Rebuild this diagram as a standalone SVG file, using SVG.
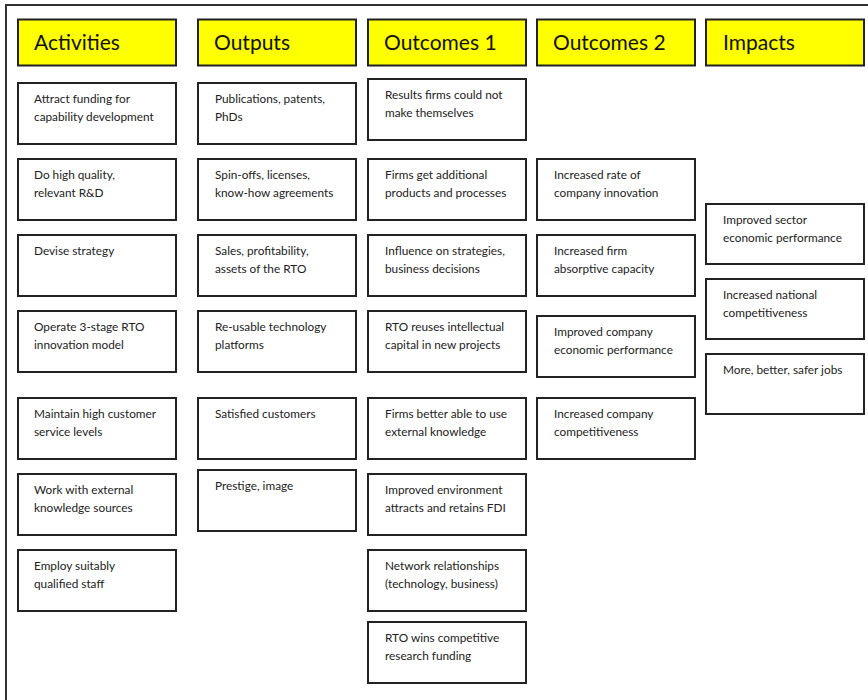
<svg xmlns="http://www.w3.org/2000/svg" width="868" height="700" viewBox="0 0 868 700">
<style>
.frame{fill:none;stroke:#333;stroke-width:2}
.hd{fill:#ffff00;stroke:#222;stroke-width:2}
.bx{fill:#fff;stroke:#222;stroke-width:2}
.ht{font-family:Lato,"Liberation Sans",sans-serif;font-size:21px;fill:#111}
.t{font-family:Lato,"Liberation Sans",sans-serif;font-size:11.8px;fill:#222}
</style>
<rect width="868" height="700" fill="#fff"/>
<path class="frame" d="M6 702 V5 H870"/>
<g id="connectors"></g>
<g id="h-activities"><rect class="hd" x="18" y="19.5" width="158" height="46"/><text class="ht" x="34" y="50">Activities</text></g>
<g id="h-outputs"><rect class="hd" x="198" y="19.5" width="158" height="46"/><text class="ht" x="214" y="50">Outputs</text></g>
<g id="h-outcomes1"><rect class="hd" x="368" y="19.5" width="158" height="46"/><text class="ht" x="384" y="50">Outcomes 1</text></g>
<g id="h-outcomes2"><rect class="hd" x="537" y="19.5" width="158" height="46"/><text class="ht" x="553" y="50">Outcomes 2</text></g>
<g id="h-impacts"><rect class="hd" x="706" y="19.5" width="158" height="46"/><text class="ht" x="723" y="50">Impacts</text></g>

<g id="a1"><rect class="bx" x="18" y="83" width="158" height="61"/><text class="t" x="34" y="103">Attract funding for<tspan x="34" dy="17.5">capability development</tspan></text></g>
<g id="a2"><rect class="bx" x="18" y="159" width="158" height="61"/><text class="t" x="34" y="179">Do high quality,<tspan x="34" dy="17.5">relevant R&amp;D</tspan></text></g>
<g id="a3"><rect class="bx" x="18" y="235" width="158" height="61"/><text class="t" x="34" y="255">Devise strategy</text></g>
<g id="a4"><rect class="bx" x="18" y="311" width="158" height="61"/><text class="t" x="34" y="331">Operate 3-stage RTO<tspan x="34" dy="17.5">innovation model</tspan></text></g>
<g id="a5"><rect class="bx" x="18" y="398" width="158" height="61"/><text class="t" x="34" y="418">Maintain high customer<tspan x="34" dy="17.5">service levels</tspan></text></g>
<g id="a6"><rect class="bx" x="18" y="474" width="158" height="61"/><text class="t" x="34" y="494">Work with external<tspan x="34" dy="17.5">knowledge sources</tspan></text></g>
<g id="a7"><rect class="bx" x="18" y="550" width="158" height="61"/><text class="t" x="34" y="570">Employ suitably<tspan x="34" dy="17.5">qualified staff</tspan></text></g>

<g id="o1"><rect class="bx" x="198" y="83" width="158" height="61"/><text class="t" x="215" y="103">Publications, patents,<tspan x="215" dy="17.5">PhDs</tspan></text></g>
<g id="o2"><rect class="bx" x="198" y="159" width="158" height="61"/><text class="t" x="215" y="179">Spin-offs, licenses,<tspan x="215" dy="17.5">know-how agreements</tspan></text></g>
<g id="o3"><rect class="bx" x="198" y="235" width="158" height="61"/><text class="t" x="215" y="255">Sales, profitability,<tspan x="215" dy="17.5">assets of the RTO</tspan></text></g>
<g id="o4"><rect class="bx" x="198" y="311" width="158" height="61"/><text class="t" x="215" y="331">Re-usable technology<tspan x="215" dy="17.5">platforms</tspan></text></g>
<g id="o5"><rect class="bx" x="198" y="398" width="158" height="61"/><text class="t" x="215" y="418">Satisfied customers</text></g>
<g id="o6"><rect class="bx" x="198" y="470" width="158" height="61"/><text class="t" x="215" y="490">Prestige, image</text></g>

<g id="c1"><rect class="bx" x="368" y="79" width="158" height="61"/><text class="t" x="385" y="99">Results firms could not<tspan x="385" dy="17.5">make themselves</tspan></text></g>
<g id="c2"><rect class="bx" x="368" y="159" width="158" height="61"/><text class="t" x="385" y="179">Firms get additional<tspan x="385" dy="17.5">products and processes</tspan></text></g>
<g id="c3"><rect class="bx" x="368" y="235" width="158" height="61"/><text class="t" x="385" y="255">Influence on strategies,<tspan x="385" dy="17.5">business decisions</tspan></text></g>
<g id="c4"><rect class="bx" x="368" y="311" width="158" height="61"/><text class="t" x="385" y="331">RTO reuses intellectual<tspan x="385" dy="17.5">capital in new projects</tspan></text></g>
<g id="c5"><rect class="bx" x="368" y="398" width="158" height="61"/><text class="t" x="385" y="418">Firms better able to use<tspan x="385" dy="17.5">external knowledge</tspan></text></g>
<g id="c6"><rect class="bx" x="368" y="474" width="158" height="61"/><text class="t" x="385" y="494">Improved environment<tspan x="385" dy="17.5">attracts and retains FDI</tspan></text></g>
<g id="c7"><rect class="bx" x="368" y="550" width="158" height="61"/><text class="t" x="385" y="570">Network relationships<tspan x="385" dy="17.5">(technology, business)</tspan></text></g>
<g id="c8"><rect class="bx" x="368" y="622" width="158" height="61"/><text class="t" x="385" y="642">RTO wins competitive<tspan x="385" dy="17.5">research funding</tspan></text></g>

<g id="d1"><rect class="bx" x="537" y="159" width="158" height="61"/><text class="t" x="554" y="179">Increased rate of<tspan x="554" dy="17.5">company innovation</tspan></text></g>
<g id="d2"><rect class="bx" x="537" y="235" width="158" height="61"/><text class="t" x="554" y="255">Increased firm<tspan x="554" dy="17.5">absorptive capacity</tspan></text></g>
<g id="d3"><rect class="bx" x="537" y="316" width="158" height="61"/><text class="t" x="554" y="336">Improved company<tspan x="554" dy="17.5">economic performance</tspan></text></g>
<g id="d4"><rect class="bx" x="537" y="398" width="158" height="61"/><text class="t" x="554" y="418">Increased company<tspan x="554" dy="17.5">competitiveness</tspan></text></g>

<g id="i1"><rect class="bx" x="706" y="204" width="158" height="60"/><text class="t" x="723" y="224">Improved sector<tspan x="723" dy="17.5">economic performance</tspan></text></g>
<g id="i2"><rect class="bx" x="706" y="279" width="158" height="60"/><text class="t" x="723" y="299">Increased national<tspan x="723" dy="17.5">competitiveness</tspan></text></g>
<g id="i3"><rect class="bx" x="706" y="354" width="158" height="60"/><text class="t" x="723" y="374">More, better, safer jobs</text></g>
</svg>
